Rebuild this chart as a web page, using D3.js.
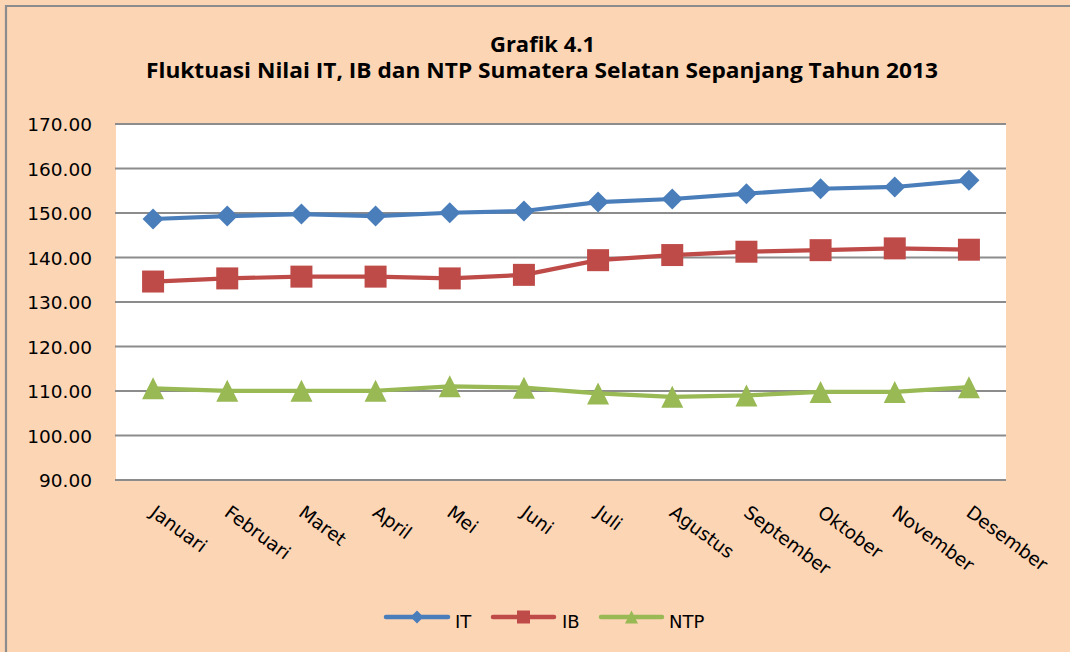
<!DOCTYPE html>
<html>
<head>
<meta charset="utf-8">
<script src="https://cdn.jsdelivr.net/npm/d3@7"></script>
<style>
  html, body { margin: 0; padding: 0; background: #FCD5B5; }
  svg { display: block; }
</style>
</head>
<body>
<svg id="chart" width="1070" height="652"></svg>
<script>
const months = ["Januari","Februari","Maret","April","Mei","Juni","Juli","Agustus","September","Oktober","November","Desember"];
const seriesNames = ["IT","IB","NTP"];
const itValues  = [148.65,149.30,149.75,149.30,150.05,150.45,152.45,153.15,154.35,155.45,155.85,157.35];
const ibValues  = [134.60,135.30,135.70,135.70,135.30,136.10,139.40,140.55,141.30,141.65,142.05,141.75];
const ntpValues = [110.60,110.05,110.05,110.05,111.05,110.75,109.45,108.70,109.00,109.80,109.80,110.85];
const yTicks = [90,100,110,120,130,140,150,160,170];
const titleLines = ["Grafik 4.1","Fluktuasi Nilai IT, IB dan NTP Sumatera  Selatan Sepanjang Tahun 2013"];

const colors = {IT:"#4A7EBB", IB:"#BE4B48", NTP:"#98B954"};
const dataBySeries = {IT: itValues, IB: ibValues, NTP: ntpValues};

const svg = d3.select("#chart");
const W = 1070, H = 652;
const plot = {left:116, right:1006, top:124, bottom:480};

// background & border
svg.append("rect").attr("x",0).attr("y",0).attr("width",W).attr("height",H).attr("fill","#FCD5B5");
svg.append("path").attr("d",`M6,${H+5} L6,6 L${W+5},6`).attr("fill","none").attr("stroke","#8C8C8C").attr("stroke-width",2.2);

// plot area
svg.append("rect").attr("x",plot.left).attr("y",plot.top).attr("width",plot.right-plot.left).attr("height",plot.bottom-plot.top).attr("fill","#FFFFFF");

const x = d3.scaleBand().domain(months).range([plot.left, plot.right]);
const y = d3.scaleLinear().domain([90,170]).range([plot.bottom, plot.top]);

// gridlines
svg.append("g").selectAll("line").data(yTicks).join("line")
  .attr("x1",plot.left-1).attr("x2",plot.right)
  .attr("y1",d=>y(d)).attr("y2",d=>y(d))
  .attr("stroke","#8C8C8C").attr("stroke-width",1.8);

// y axis labels
const yAxis = d3.axisLeft(y).tickValues(yTicks).tickFormat(d3.format(".2f")).tickSize(0).tickPadding(0);
const yg = svg.append("g").attr("transform",`translate(92,0)`).call(yAxis);
yg.select(".domain").remove();
yg.selectAll("text").attr("font-family","DejaVu Sans, Verdana, sans-serif").attr("font-size","18.5px").attr("fill","#000").attr("dy","0.36em");

// x axis labels
const xAxis = d3.axisBottom(x).tickSize(0).tickPadding(0);
const xg = svg.append("g").attr("transform",`translate(0,${plot.bottom})`).call(xAxis);
xg.select(".domain").remove();
xg.selectAll(".tick text")
  .attr("font-family","DejaVu Sans, Verdana, sans-serif").attr("font-size","18.5px").attr("fill","#000")
  .attr("text-anchor","start")
  .attr("dy",null)
  .attr("transform","translate(-4,35) rotate(36.5)")
  .attr("y",0).attr("x",0);

// title
const title = svg.append("g");
const t1 = title.append("text").attr("x",542.5).attr("y",51.5).text(titleLines[0]);
const t2 = title.append("text").attr("x",542).attr("y",77.5).text(titleLines[1]);
title.selectAll("text").attr("font-family","Open Sans, DejaVu Sans, sans-serif").attr("font-weight","bold")
  .attr("font-size","21px").attr("text-anchor","middle").attr("fill","#000");
t1.attr("textLength",105).attr("lengthAdjust","spacingAndGlyphs");
t2.attr("textLength",792).attr("lengthAdjust","spacingAndGlyphs");

// marker shapes
function markerPath(name, s) {
  const h = s/2;
  if (name === "IT") return `M0,${-h} L${h},0 L0,${h} L${-h},0 Z`;
  if (name === "IB") return `M${-h},${-h} L${h},${-h} L${h},${h} L${-h},${h} Z`;
  return `M0,${-h} L${h},${h} L${-h},${h} Z`;
}
const markerSize = {IT:21, IB:22, NTP:22};

const line = d3.line().x((d,i)=>x(months[i])+x.bandwidth()/2).y(d=>y(d));

seriesNames.forEach(name => {
  const vals = dataBySeries[name];
  svg.append("path").datum(vals).attr("d",line)
    .attr("fill","none").attr("stroke",colors[name]).attr("stroke-width",4.2)
    .attr("stroke-linejoin","round").attr("stroke-linecap","round");
  svg.append("g").selectAll("path").data(vals).join("path")
    .attr("transform",(d,i)=>`translate(${x(months[i])+x.bandwidth()/2},${y(d)})`)
    .attr("d",markerPath(name, markerSize[name]))
    .attr("fill",colors[name]);
});

// legend
const legendItems = [
  {name:"IT", x1:386, x2:448, tx:455},
  {name:"IB", x1:493, x2:554, tx:562},
  {name:"NTP", x1:601, x2:662, tx:669}
];
const lg = svg.append("g");
legendItems.forEach(it => {
  lg.append("line").attr("x1",it.x1).attr("x2",it.x2).attr("y1",617).attr("y2",617)
    .attr("stroke",colors[it.name]).attr("stroke-width",4.5).attr("stroke-linecap","round");
  lg.append("path").attr("transform",`translate(${(it.x1+it.x2)/2},617)`)
    .attr("d",markerPath(it.name, 13)).attr("fill",colors[it.name]);
  lg.append("text").attr("x",it.tx).attr("y",627.5).text(it.name)
    .attr("font-family","DejaVu Sans, Verdana, sans-serif").attr("font-size","18px").attr("fill","#000");
});
</script>
</body>
</html>
